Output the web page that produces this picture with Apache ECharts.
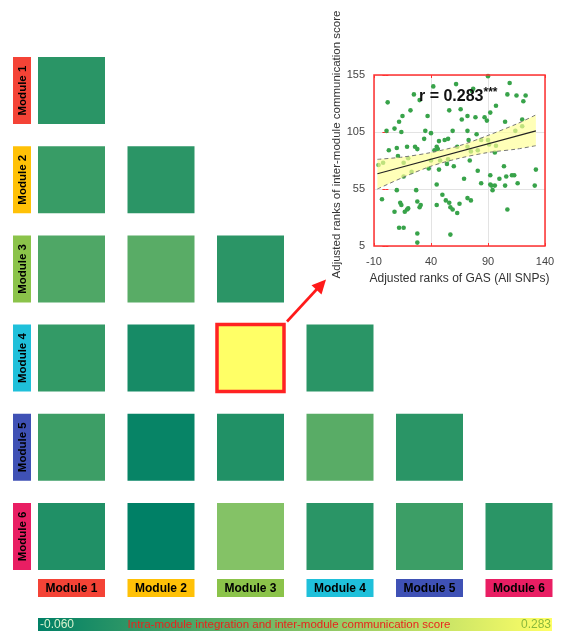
<!DOCTYPE html>
<html>
<head>
<meta charset="utf-8">
<script src="https://cdn.jsdelivr.net/npm/echarts@6/dist/echarts.min.js"></script>
<style>
  html, body { margin: 0; padding: 0; background: #fff; }
  #chart { width: 566px; height: 631px; }
</style>
</head>
<body>
<div id="chart"></div>
<script>
// ---- module matrix ----
const modules = ['Module 1', 'Module 2', 'Module 3', 'Module 4', 'Module 5', 'Module 6'];
const moduleColors = ['#f44336', '#ffc107', '#8bc34a', '#1fc0da', '#3f51b5', '#e91e63'];
// lower-triangular scores: row i holds columns Module 1 .. Module i
const scoreRows = [
  [-0.003],
  [0.015, -0.002],
  [0.046, 0.060, -0.002],
  [0.009, -0.029, 0.283, -0.003],
  [0.022, -0.050, -0.015, 0.060, -0.003],
  [-0.017, -0.060, 0.118, -0.003, 0.021, -0.003]
];
const highlightCell = ['Module 3', 'Module 4'];
const scoreMin = -0.060;
const scoreMax = 0.283;
const scoreTitle = 'Intra-module integration and inter-module communication score';

// ---- inset scatter: adjusted ranks ----
const gasRank = [90, 109, 62, 42, 77, 76, 25, 30, 107, 115, 123, 2, 121, 22, 15, 56, 66, 97, 92, 37,
  72, 79, 87, 89, 67, 12, 105, 120, 8, 1, 14, 35, 40, 59, 72, 80, 114, 120, 55, 47,
  52, 45, 26, 28, 73, 90, 91, 97, 3, 20, 16, 11, 43, 46, 63, 81, 72, -2, -6, 40,
  48, 55, 60, 54, 74, 38, 47, 16, 23, 81, 104, 132, 92, 69, 100, 106, 111, 113, 92, 93,
  96, 94, 105, 131, 45, 10, 27, -3, 50, 53, 56, 13, 14, 8, 17, 28, 31, 30, 20, 19,
  45, 57, 59, 65, 72, 75, 63, 107, 12, 16, 28, 57, 28, 34, 84, 10, 75, 96, 116, 84, 19];
const commRank = [154, 148, 147, 145, 143, 141, 138, 133, 138, 137, 137, 131, 132, 124, 119, 124, 125, 128, 122, 119,
  119, 118, 118, 115, 116, 114, 114, 116, 108, 106, 105, 106, 104, 106, 106, 103, 106, 110, 99, 97,
  98, 92, 92, 90, 98, 98, 94, 93, 89, 82, 78, 84, 89, 90, 92, 89, 92, 78, 76, 80,
  80, 81, 75, 77, 80, 73, 72, 66, 70, 71, 75, 72, 67, 64, 64, 66, 67, 67, 59, 58,
  58, 54, 58, 58, 59, 54, 54, 46, 50, 45, 43, 43, 41, 35, 35, 44, 41, 39, 38, 37,
  41, 39, 37, 42, 47, 45, 34, 37, 21, 21, 16, 15, 8, 99, 98, 91, 88, 87, 60, 60, 92];
const fitX = [-7, 132];
const fitY = [68.4, 106];
const bandX = [-7, 15, 40, 65, 90, 115, 132];
const bandUpper = [81, 83, 87, 93, 102, 112, 120];
const bandLower = [55, 65, 75, 82, 87, 90, 93];
const corrText = 'r = 0.283';
const xName = 'Adjusted ranks of GAS (All SNPs)';
const yName = 'Adjusted ranks of inter-module communication score';

const FONT = '"Liberation Sans", Arial, sans-serif';
const RED = '#ff3030';

// heatmap cells as [col, row, value]
const cells = [];
scoreRows.forEach((row, r) => row.forEach((v, c) => cells.push([c, r, v])));
const cellData = cells.map(([c, r, v]) => {
  const hit = modules[c] === highlightCell[0] && modules[r] === highlightCell[1];
  return hit
    ? { value: [c, r, v], itemStyle: { borderColor: '#ff2222', borderWidth: 3.5 }, z: 5 }
    : { value: [c, r, v] };
});

const bandPolygon = bandX.map((x, i) => [x, bandUpper[i]])
  .concat(bandX.map((x, i) => [x, bandLower[i]]).reverse());

const chart = echarts.init(document.getElementById('chart'), null, { renderer: 'canvas' });

const insetTickStyle = { show: true, inside: true, length: 3, lineStyle: { color: RED, width: 1 } };

chart.setOption({
  animation: false,
  backgroundColor: '#fff',
  textStyle: { fontFamily: FONT },
  grid: [
    { left: 26.75, top: 46, width: 537, height: 535 },
    { left: 374, top: 75, width: 171, height: 171, show: true, borderColor: RED, borderWidth: 1.5, backgroundColor: 'transparent', z: 3 }
  ],
  xAxis: [
    { gridIndex: 0, type: 'category', data: modules, show: false },
    {
      gridIndex: 1, type: 'value', min: -10, max: 140, interval: 50,
      axisLine: { show: false }, axisTick: insetTickStyle,
      splitLine: { show: true, lineStyle: { color: '#e3e3e3', width: 1 } },
      axisLabel: { color: '#444', fontSize: 11, margin: 10, fontFamily: FONT },
      name: xName, nameLocation: 'middle', nameGap: 27,
      nameTextStyle: { color: '#333', fontSize: 12, fontFamily: FONT }
    },
    {
      gridIndex: 1, type: 'value', position: 'top', min: -10, max: 140, interval: 50,
      axisLine: { show: false }, axisTick: insetTickStyle, axisLabel: { show: false }, splitLine: { show: false }
    }
  ],
  yAxis: [
    { gridIndex: 0, type: 'category', data: modules, inverse: true, show: false },
    {
      gridIndex: 1, type: 'value', min: 5, max: 155, interval: 50,
      axisLine: { show: false }, axisTick: insetTickStyle,
      splitLine: { show: true, lineStyle: { color: '#e3e3e3', width: 1 } },
      axisLabel: { color: '#444', fontSize: 11, margin: 9, fontFamily: FONT },
      name: yName, nameLocation: 'middle', nameGap: 21,
      nameTextStyle: { color: '#333', fontSize: 11.5, fontFamily: FONT, padding: [0, 0, 0, 32] }
    },
    {
      gridIndex: 1, type: 'value', position: 'right', min: 5, max: 155, interval: 50,
      axisLine: { show: false }, axisTick: insetTickStyle, axisLabel: { show: false }, splitLine: { show: false }
    }
  ],
  visualMap: {
    show: false, type: 'continuous', seriesIndex: 0, dimension: 2,
    min: scoreMin, max: scoreMax,
    inRange: { color: ['#008066', '#ffff66'] }
  },
  series: [
    {
      name: 'score', type: 'scatter', xAxisIndex: 0, yAxisIndex: 0,
      symbol: 'rect', symbolSize: [67, 67],
      itemStyle: { opacity: 1 },
      data: cellData
    },
    {
      name: 'ranks', type: 'scatter', xAxisIndex: 1, yAxisIndex: 1,
      symbolSize: 4.6, itemStyle: { color: '#38a34a', opacity: 1 },
      data: gasRank.map((x, i) => [x, commRank[i]]), z: 2
    },
    {
      name: 'band', type: 'custom', xAxisIndex: 1, yAxisIndex: 1, z: 3,
      data: [0],
      renderItem: (params, api) => ({
        type: 'polygon',
        shape: { points: bandPolygon.map(p => api.coord(p)) },
        style: { fill: 'rgba(255,255,150,0.68)', stroke: 'none' }
      }),
      silent: true
    },
    {
      name: 'upper', type: 'line', xAxisIndex: 1, yAxisIndex: 1, z: 4, symbol: 'none',
      lineStyle: { color: '#777', width: 1, type: [4, 3] },
      data: bandX.map((x, i) => [x, bandUpper[i]]), smooth: 0.3
    },
    {
      name: 'lower', type: 'line', xAxisIndex: 1, yAxisIndex: 1, z: 4, symbol: 'none',
      lineStyle: { color: '#777', width: 1, type: [4, 3] },
      data: bandX.map((x, i) => [x, bandLower[i]]), smooth: 0.3
    },
    {
      name: 'fit', type: 'line', xAxisIndex: 1, yAxisIndex: 1, z: 5, symbol: 'none',
      lineStyle: { color: '#222', width: 1.2 },
      data: fitX.map((x, i) => [x, fitY[i]])
    }
  ]
});

// ---- labels, colour bar and arrow ----
const graphics = [];
const last = modules.length - 1;
modules.forEach((m, i) => {
  const rowC = chart.convertToPixel({ gridIndex: 0 }, [0, i]);
  graphics.push({
    type: 'group', x: rowC[0] - 49.5, y: rowC[1], rotation: Math.PI / 2,
    children: [
      { type: 'rect', shape: { x: -33.5, y: -9, width: 67, height: 18 }, style: { fill: moduleColors[i] } },
      { type: 'text', style: { text: m, x: 0, y: 0.5, align: 'center', verticalAlign: 'middle',
        font: 'bold 11.5px ' + FONT, fill: '#000' } }
    ]
  });
  const colC = chart.convertToPixel({ gridIndex: 0 }, [i, last]);
  graphics.push({
    type: 'group', x: colC[0], y: colC[1] + 51.5,
    children: [
      { type: 'rect', shape: { x: -33.5, y: -9, width: 67, height: 18 }, style: { fill: moduleColors[i] } },
      { type: 'text', style: { text: m, x: 0, y: 0.5, align: 'center', verticalAlign: 'middle',
        font: 'bold 12px ' + FONT, fill: '#000' } }
    ]
  });
});

// colour bar
graphics.push({
  type: 'rect', shape: { x: 38, y: 618, width: 514, height: 13 },
  style: { fill: new echarts.graphic.LinearGradient(0, 0, 1, 0, [
    { offset: 0, color: '#008066' }, { offset: 1, color: '#ffff66' }
  ]) }
});
graphics.push({ type: 'text', style: { text: scoreMin.toFixed(3), x: 40, y: 625, verticalAlign: 'middle',
  font: '12px ' + FONT, fill: '#d9f2cf' } });
graphics.push({ type: 'text', style: { text: scoreMax.toFixed(3), x: 551, y: 625, align: 'right', verticalAlign: 'middle',
  font: '12px ' + FONT, fill: '#8ab83c' } });
graphics.push({ type: 'text', style: { text: scoreTitle, x: 289, y: 625, align: 'center', verticalAlign: 'middle',
  font: '11.5px ' + FONT, fill: '#e8241c' } });

// correlation label
graphics.push({
  type: 'text', z: 10,
  style: {
    text: '{a|' + corrText + '}{b|***}', x: 419, y: 97, verticalAlign: 'middle',
    rich: {
      a: { font: 'bold 16px ' + FONT, fill: '#111', lineHeight: 20 },
      b: { font: 'bold 12px ' + FONT, fill: '#111', verticalAlign: 'top', lineHeight: 20 }
    }
  }
});

// arrow from the highlighted cell to the inset
const tip = [326, 279.5];
const tail = [287, 321.5];
graphics.push({ type: 'line', shape: { x1: tail[0], y1: tail[1], x2: 317, y2: 289 },
  style: { stroke: '#ff1a1a', lineWidth: 2.6 } });
graphics.push({ type: 'polygon', shape: { points: [tip, [321.5, 294.5], [311.5, 285.2]] },
  style: { fill: '#ff1a1a' } });

chart.setOption({ graphic: graphics });
</script>
</body>
</html>
